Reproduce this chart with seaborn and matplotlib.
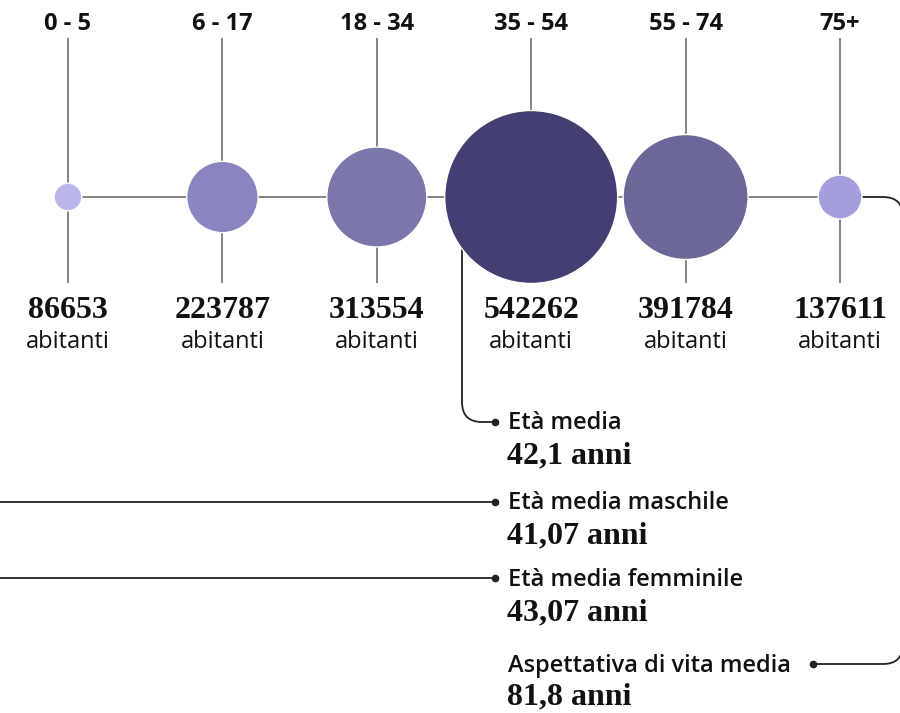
import numpy as np
import pandas as pd
import matplotlib
matplotlib.use("Agg")
import matplotlib.pyplot as plt
import matplotlib.transforms as mtransforms
from matplotlib.path import Path
from matplotlib.patches import PathPatch
import seaborn as sns

# ---------------- data ----------------
ages = ["0 - 5", "6 - 17", "18 - 34", "35 - 54", "55 - 74", "75+"]
population = [86653, 223787, 313554, 542262, 391784, 137611]
bubble_colors = ["#b9b6ec", "#8885c0", "#7a77ab", "#433f73", "#6b6899", "#a39fde"]
unit_label = "abitanti"

stat_labels = ["Età media", "Età media maschile", "Età media femminile",
               "Aspettativa di vita media"]
stat_values = ["42,1", "41,07", "43,07", "81,8"]
stat_unit = "anni"

# ---------------- style ----------------
sns.set_theme(style="white")
SANS = ["Open Sans", "DejaVu Sans"]
SERIF = ["Liberation Serif", "DejaVu Serif"]
plt.rcParams["font.family"] = SANS

W, H = 900, 713
fig = plt.figure(figsize=(W / 100, H / 100), dpi=100)
ax = fig.add_axes([0, 0, 1, 1])

# pixel transform (x right, y down) for layout elements
pix = mtransforms.Affine2D().scale(1 / W, -1 / H).translate(0, 1) + fig.transFigure

# category axis: index 0 at px 68, step 154.4 px; y=0 at px 197 (1 unit = 1 px)
X0, STEP, YC = 68.0, 154.4, 197.0
ax.set_xlim(-X0 / STEP, (W - X0) / STEP)
ax.set_ylim(-(H - YC), YC)
ax.axis("off")

df = pd.DataFrame({"age": ages, "pop": population, "y": 0.0})
RAD_PER_UNIT = 1.595e-4  # radius in px proportional to population
diam_pt = 2 * df["pop"].to_numpy() * RAD_PER_UNIT * 72 / 100
line_grey = "#7a7a7a"
dark = "#222222"
LW = 1.3

# vertical guide lines
ax.vlines(np.arange(len(ages)), YC - 283, YC - 38, color=line_grey, lw=LW, zorder=1)

# main horizontal connector; rounded corners leave the picture at the right edge
ax.plot([X0, 840], [YC, YC], color=line_grey, lw=LW, transform=pix, zorder=1)
ax.add_patch(PathPatch(Path([(840, YC), (883, YC), (903, YC), (903, YC + 20)],
                            [Path.MOVETO, Path.LINETO, Path.CURVE3, Path.CURVE3]),
                       fill=False, ec=dark, lw=LW, transform=pix, zorder=1))
ax.add_patch(PathPatch(Path([(903, 644), (903, 664), (883, 664), (813, 664)],
                            [Path.MOVETO, Path.CURVE3, Path.CURVE3, Path.LINETO]),
                       fill=False, ec=dark, lw=LW, transform=pix, zorder=1))

# bubbles
sns.scatterplot(data=df, x="age", y="y", hue="age", palette=bubble_colors,
                s=diam_pt ** 2, edgecolor="white", linewidth=1.0, legend=False,
                ax=ax, zorder=3)
ax.set_xlim(-X0 / STEP, (W - X0) / STEP)
ax.set_ylim(-(H - YC), YC)

# labels for each age group
for i, (a, p) in enumerate(zip(ages, population)):
    xp = X0 + STEP * i
    ax.text(xp, 24, a, transform=pix, ha="center", va="center",
            fontsize=17, fontweight="bold", color="#111111", family=SANS)
    ax.text(xp, 310, f"{p}", transform=pix, ha="center", va="center",
            fontsize=23, fontweight="bold", color="#111111", family=SERIF)
    ax.text(xp, 342, unit_label, transform=pix, ha="center", va="center",
            fontsize=17, color="#111111", family=SANS)

# callout: Età media (from big bubble)
ax.add_patch(PathPatch(Path([(462, 240), (462, 402), (462, 422), (482, 422), (495, 422)],
                            [Path.MOVETO, Path.LINETO, Path.CURVE3, Path.CURVE3, Path.LINETO]),
                       fill=False, ec=dark, lw=LW, transform=pix, zorder=2))
# callouts from left
for yy in (502, 578):
    ax.plot([0, 495], [yy, yy], color=dark, lw=LW, transform=pix, zorder=2)

dots_x = [495, 495, 495, 813]
dots_y = [422, 502, 578, 664]
label_y = [423, 503, 580, 666]
value_y = [456, 536, 613, 697]
for k in range(len(stat_labels)):
    ax.plot([dots_x[k]], [dots_y[k]], "o", ms=4.5, color=dark, transform=pix, zorder=4)
    ax.text(508, label_y[k], stat_labels[k], transform=pix, ha="left", va="center",
            fontsize=17, fontweight="semibold", color="#111111", family=SANS)
    ax.text(507, value_y[k], f"{stat_values[k]} {stat_unit}", transform=pix,
            ha="left", va="center", fontsize=23, fontweight="bold", color="#111111",
            family=SERIF)

fig.savefig("out.png", dpi=100)
